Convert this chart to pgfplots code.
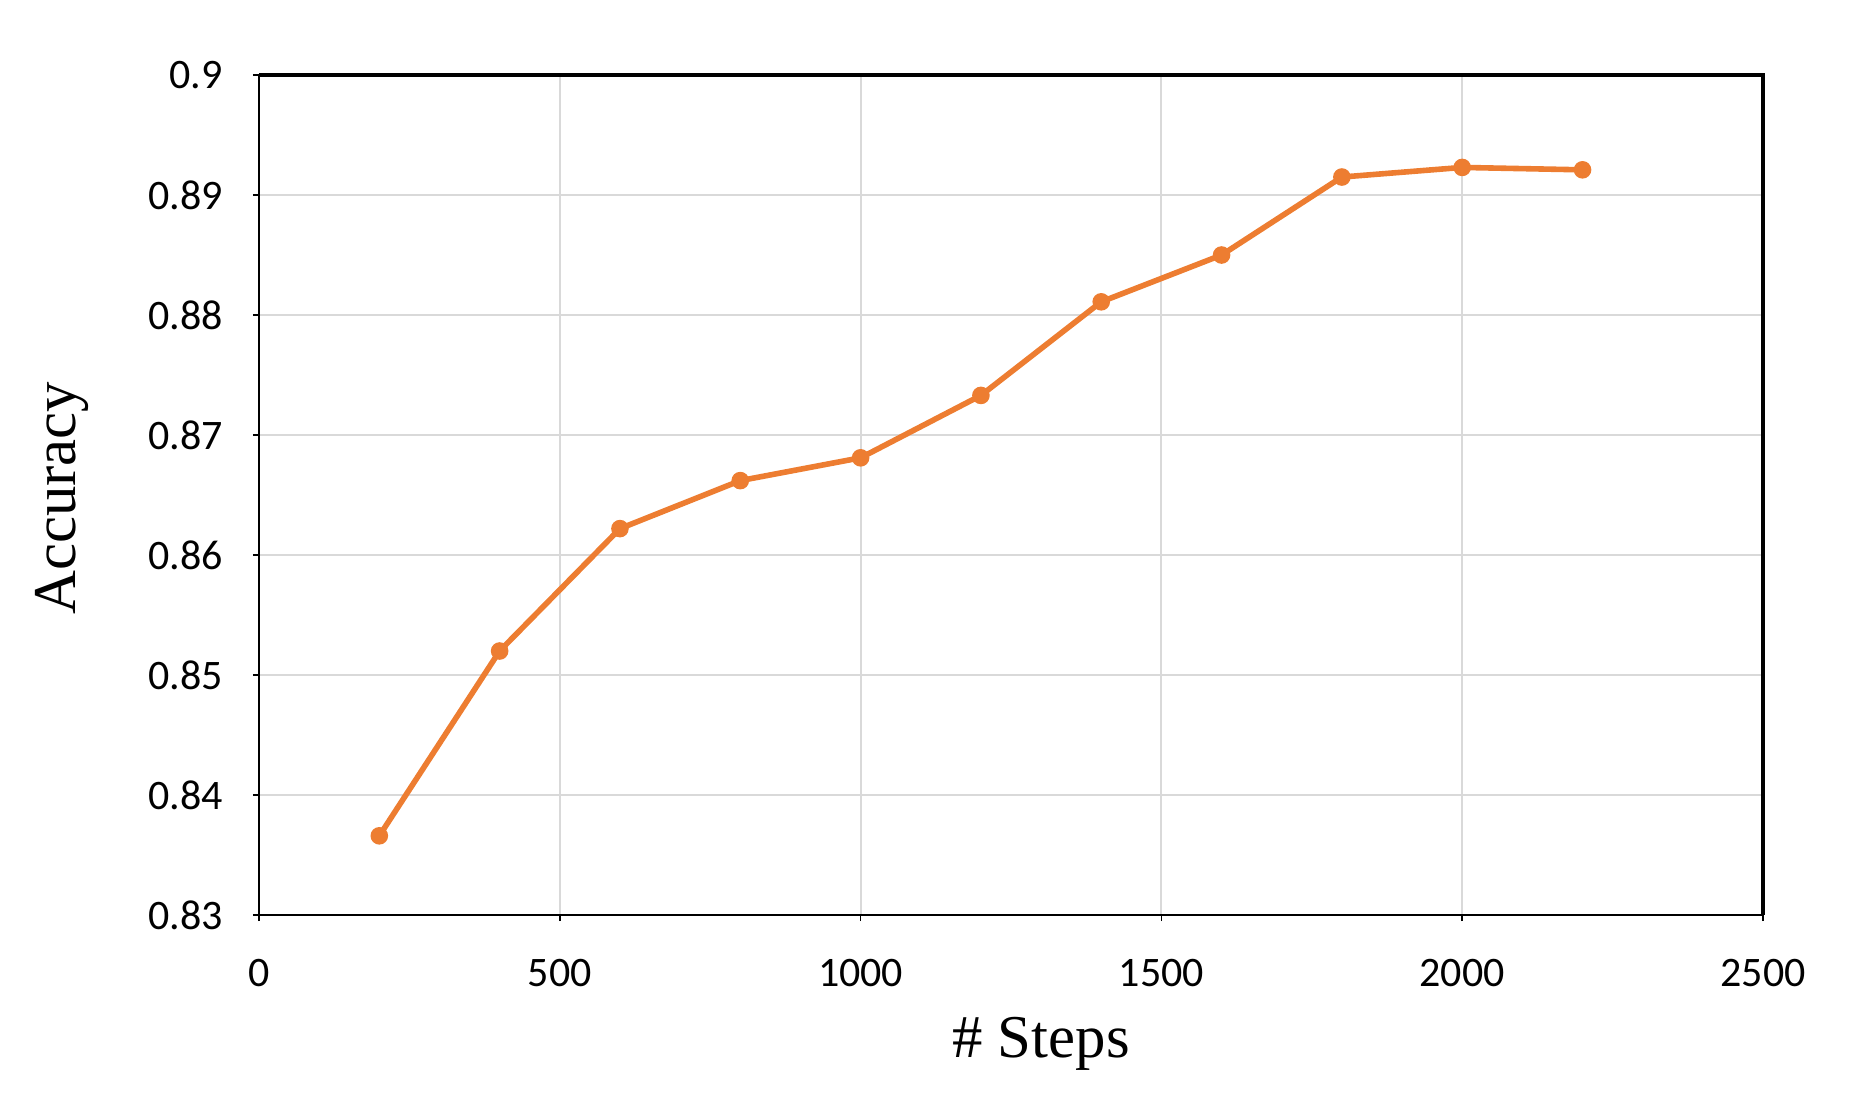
\documentclass[border=0pt]{standalone}
\usepackage{fontspec}
\setmainfont{Liberation Serif}
\newfontfamily\calfont{Carlito}
\usepackage{pgfplots}
\pgfplotsset{compat=1.18}
\definecolor{gridgray}{HTML}{D9D9D9}
\definecolor{lineorange}{HTML}{ED7D31}
\begin{document}
\begin{tikzpicture}
\useasboundingbox (-64.75pt,-47.25pt) rectangle (404.25pt,228.75pt);
\begin{axis}[
  at={(0,0)}, anchor=south west,
  scale only axis,
  width=376pt, height=210pt,
  xmin=0, xmax=2500, ymin=0.83, ymax=0.9,
  xtick={0,500,...,2500},
  ytick={0.83,0.84,0.85,0.86,0.87,0.88,0.89,0.9},
  yticklabels={0.83,0.84,0.85,0.86,0.87,0.88,0.89,0.9},
  /pgf/number format/assume math mode=true,
  /pgf/number format/1000 sep={},
  ticklabel style={font=\calfont\fontsize{10.5}{12}\selectfont},
  xticklabel style={yshift=-6pt},
  yticklabel style={xshift=-4pt},
  grid=major,
  major grid style={gridgray, line width=0.5pt},
  axis x line*=bottom, axis y line*=left,
  axis line style={black, line width=0.5pt},
  tick align=outside,
  major tick length=1.5pt,
  tick style={black, line width=0.4pt},
  xlabel={\# Steps},
  ylabel={Accuracy},
  label style={font=\fontsize{15.2}{18}\selectfont},
  xlabel style={at={(axis description cs:0.52,-0.1536)}, anchor=center},
  ylabel style={at={(axis description cs:-0.131,0.496)}, anchor=center, rotate=0},
  clip=false,
]
\addplot[lineorange, line width=1.4pt, mark=*, mark size=2pt, mark options={fill=lineorange, draw=lineorange, line width=0.4pt}]
  coordinates {
    (200,0.8366) (400,0.8520) (600,0.8622) (800,0.8662) (1000,0.8681)
    (1200,0.8733) (1400,0.8811) (1600,0.8850) (1800,0.8915) (2000,0.8923)
    (2200,0.8921)
  };
\draw[black, line width=1pt] (rel axis cs:0,1) -- (rel axis cs:1,1) -- (rel axis cs:1,0);
\end{axis}
\end{tikzpicture}
\end{document}
